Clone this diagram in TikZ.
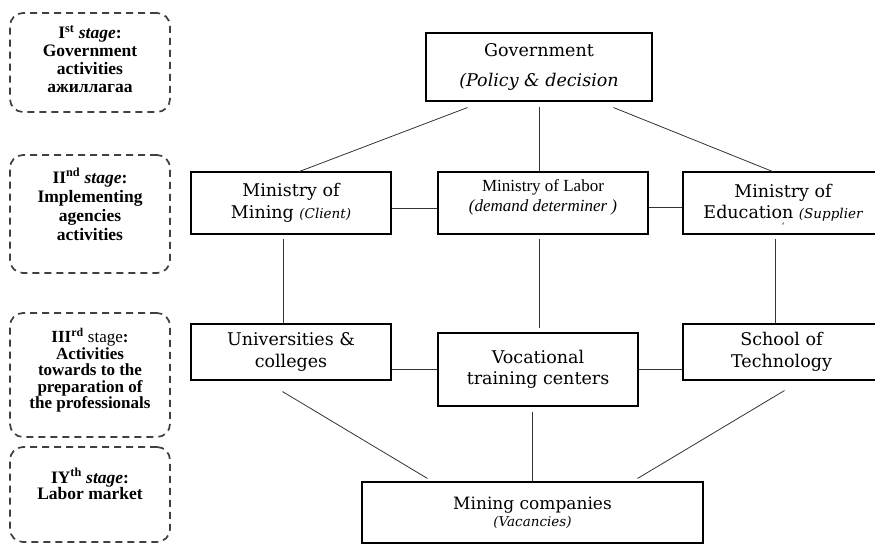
\documentclass[tikz,border=0pt]{standalone}
\usepackage{fontspec}
\setmainfont{DejaVu Serif}
\newfontfamily\tnr{Liberation Serif}
\newcommand\boxfont{\fontsize{17.5}{21.5}\selectfont}
\newcommand\parfont{\fontsize{13.5}{16}\selectfont\itshape}
\newcommand\stgfont{\tnr\bfseries\fontsize{17.5}{18}\selectfont}
\tikzset{
  mainbox/.style={draw, line width=1.1pt, inner sep=0pt, align=center, font=\boxfont},
  stagebox/.style={draw=black!75, line width=1.7pt, rounded corners=13pt, dash pattern=on 7pt off 5pt, inner sep=0pt},
  stagetext/.style={anchor=north, align=center, inner sep=0pt, font=\stgfont},
  conn/.style={line width=0.8pt, draw=black!80},
}
\begin{document}
\begin{tikzpicture}[x=1pt,y=-1pt]
\useasboundingbox (0,0) rectangle (875,544);
\clip (0,0) rectangle (875,544);
\fill[white] (0,0) rectangle (875,544);

% stage boxes
\node[stagebox, minimum width=160pt, minimum height=99pt] (s1) at (90,62.5) {};
\node[stagebox, minimum width=160pt, minimum height=118pt] (s2) at (90,214) {};
\node[stagebox, minimum width=160pt, minimum height=124pt] (s3) at (90,375) {};
\node[stagebox, minimum width=160pt, minimum height=95pt] (s4) at (90,494.5) {};

\node[stagetext] (t1) at ([yshift=-13pt]s1.north) {I\textsuperscript{st} \textit{stage}:\\Government\\activities\\ажиллагаа};
\node[stagetext, font=\tnr\bfseries\fontsize{17.5}{19}\selectfont] (t2) at ([yshift=-14pt]s2.north) {II\textsuperscript{nd} \textit{stage}:\\Implementing\\agencies\\activities};
\node[stagetext, font=\tnr\bfseries\fontsize{17}{16.5}\selectfont] (t3) at ([yshift=-16pt]s3.north) {III\textsuperscript{rd} {\mdseries stage}:\\Activities\\towards to the\\preparation of\\the professionals};
\node[stagetext, font=\tnr\bfseries\fontsize{17.5}{16.5}\selectfont] (t4) at ([yshift=-22pt]s4.north) {IY\textsuperscript{th} \textit{stage}:\\Labor market};

% main boxes
\node[mainbox, minimum width=226pt, minimum height=68pt, font=\fontsize{17.5}{30}\selectfont] (gov) at (539,67) {Government\\\textit{(Policy \& decision}};
\node[mainbox, minimum width=200pt, minimum height=62pt] (mining) at (291,203) {Ministry of\\Mining {\parfont (Client)}};
\node[mainbox, minimum width=210pt, minimum height=62pt] (labor) at (543,203) {};
\node[align=center, inner sep=0pt, font=\tnr\fontsize{17}{20}\selectfont] (labortext) at ([yshift=6pt]labor.center) {Ministry of Labor\\\textit{(demand determiner )}};
\node[mainbox, minimum width=200pt, minimum height=62pt] (edu) at (783,203) {Ministry of\\Education {\parfont (Supplier}};
\node[inner sep=0pt, font=\fontsize{9}{9}\selectfont] (tick) at (783,226) {\char"60};

\node[mainbox, minimum width=200pt, minimum height=56pt] (uni) at (291,352) {Universities \&\\colleges};
\node[mainbox, minimum width=200pt, minimum height=73pt] (voc) at (538,369.5) {Vocational\\training centers};
\node[mainbox, minimum width=197pt, minimum height=56pt] (school) at (781.5,352) {School of\\Technology};

\node[mainbox, minimum width=341pt, minimum height=61pt, font=\fontsize{17}{17}\selectfont] (comp) at (532.5,512.5) {Mining companies\\{\parfont (Vacancies)}};

% connectors
\draw[conn] ([xshift=42pt,yshift=-6pt]gov.south west) -- ([xshift=109pt]mining.north west);
\draw[conn] ([yshift=-5pt]gov.south) -- (gov.south |- labor.north);
\draw[conn] ([xshift=-39pt,yshift=-6pt]gov.south east) -- ([xshift=90pt]edu.north west);

\draw[conn] ([yshift=-5pt]mining.east) -- ([yshift=-5pt]labor.west);
\draw[conn] ([yshift=-4pt]labor.east) -- ([yshift=-4pt]edu.west);

\draw[conn] ([xshift=93pt,yshift=-4pt]mining.south west) -- ([xshift=93pt]uni.north west);
\draw[conn] ([xshift=102pt,yshift=-4pt]labor.south west) -- ([xshift=102pt,yshift=4pt]voc.north west);
\draw[conn] ([xshift=93pt,yshift=-4pt]edu.south west) -- ([xshift=93pt]school.north west);

\draw[conn] (uni.east |- voc.west) -- (voc.west);
\draw[conn] (voc.east) -- (voc.east -| school.west);

\draw[conn] ([xshift=92pt,yshift=-11pt]uni.south west) -- ([xshift=66pt,yshift=3pt]comp.north west);
\draw[conn] ([yshift=-5pt]voc.south -| comp.north) -- (comp.north);
\draw[conn] ([xshift=102pt,yshift=-10pt]school.south west) -- ([xshift=-66pt,yshift=3pt]comp.north east);
\end{tikzpicture}
\end{document}
